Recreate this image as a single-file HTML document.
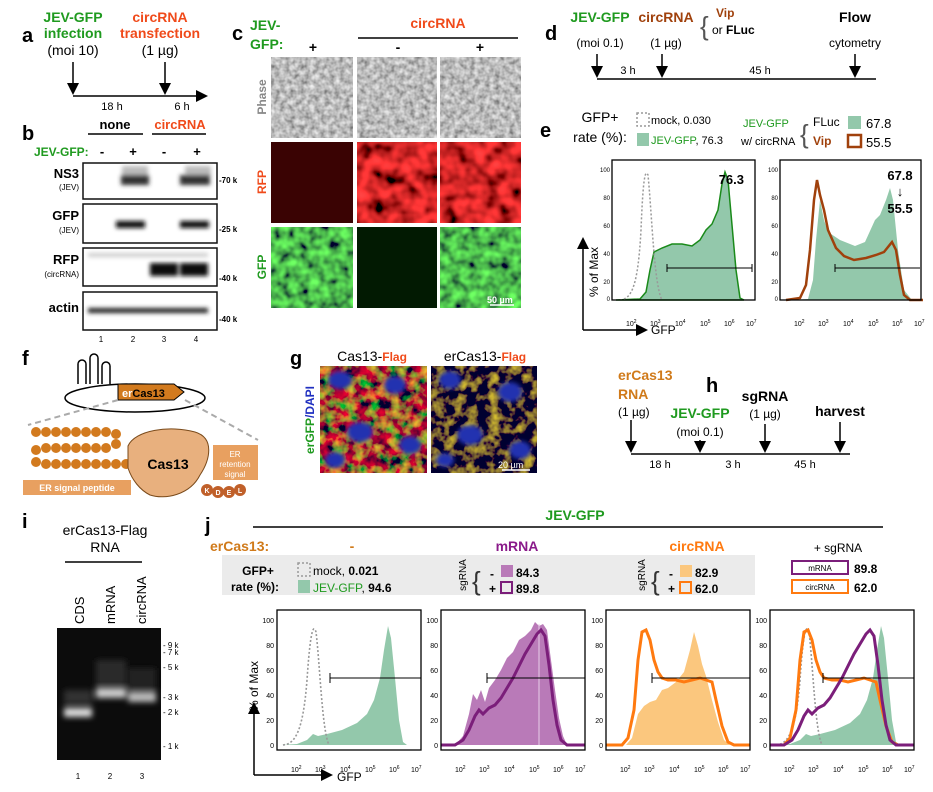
<!DOCTYPE html>
<html><head><meta charset="utf-8"><style>
html,body{margin:0;padding:0;background:#fff}
svg{display:block;font-family:"Liberation Sans",sans-serif}
.b{font-weight:bold}
.pl{font-size:20px;font-weight:bold}
</style></head><body>
<svg width="933" height="792" viewBox="0 0 933 792" xmlns="http://www.w3.org/2000/svg">
<defs>
<filter id="fPh" x="0" y="0" width="1" height="1"><feTurbulence type="fractalNoise" baseFrequency="0.2" numOctaves="2" seed="3"/><feColorMatrix type="matrix" values="0.9 0 0 0 0.05  0.9 0 0 0 0.05  0.9 0 0 0 0.05  0 0 0 0 1"/></filter>
<filter id="fR" x="0" y="0" width="1" height="1"><feTurbulence type="fractalNoise" baseFrequency="0.07" numOctaves="2" seed="7"/><feColorMatrix type="matrix" values="2.2 0 0 0 -0.45  0.1 0 0 0 -0.03  0.1 0 0 0 -0.03  0 0 0 0 1"/></filter>
<filter id="fG" x="0" y="0" width="1" height="1"><feTurbulence type="fractalNoise" baseFrequency="0.1" numOctaves="2" seed="11"/><feColorMatrix type="matrix" values="0 0.25 0 0 -0.05  0 1.7 0 0 -0.35  0 0.15 0 0 0  0 0 0 0 1"/></filter>
<filter id="fC1" x="0" y="0" width="1" height="1"><feTurbulence type="fractalNoise" baseFrequency="0.09" numOctaves="3" seed="5"/><feColorMatrix type="matrix" values="1.8 0 0 0 -0.55  0 1.4 0 0 -0.6  0 0 0 0 0.03  0 0 0 0 1"/></filter>
<filter id="fC2" x="0" y="0" width="1" height="1"><feTurbulence type="fractalNoise" baseFrequency="0.09" numOctaves="3" seed="9"/><feColorMatrix type="matrix" values="1.6 0 0 0 -0.7  1.3 0 0 0 -0.6  0 0 0 0 0.03  0 0 0 0 1"/></filter>
<filter id="bl"><feGaussianBlur stdDeviation="2"/></filter>
<filter id="bl3"><feGaussianBlur stdDeviation="3"/></filter>
<marker id="ar" markerWidth="8" markerHeight="8" refX="6" refY="4" orient="auto"><path d="M0,0 L8,4 L0,8 Z" fill="#000"/></marker>
<g id="ticks" font-size="7" fill="#000">
<text x="14" y="162">10<tspan dy="-3" font-size="5">2</tspan></text>
<text x="38" y="162">10<tspan dy="-3" font-size="5">3</tspan></text>
<text x="63" y="162">10<tspan dy="-3" font-size="5">4</tspan></text>
<text x="88" y="162">10<tspan dy="-3" font-size="5">5</tspan></text>
<text x="112" y="162">10<tspan dy="-3" font-size="5">6</tspan></text>
<text x="134" y="162">10<tspan dy="-3" font-size="5">7</tspan></text>
</g>
<g id="yt" font-size="7" text-anchor="end">
<text x="-3" y="13">100</text><text x="-3" y="38">80</text><text x="-3" y="63">60</text><text x="-3" y="88">40</text><text x="-3" y="113">20</text><text x="-3" y="138">0</text>
</g>
<path id="mock" d="M6,135 C18,134 26,122 30,70 C33,25 36,12 39,22 C43,55 45,120 52,135" fill="none" stroke="#999" stroke-width="1.6" stroke-dasharray="2,2"/>
<path id="jgreen" d="M4,135 L20,134 L30,130 L36,124 L41,126 L50,124 L65,120 L80,113 L90,104 L97,90 L103,68 L107,40 L111,16 L114,28 L118,68 L122,110 L126,132 L130,135 Z" fill="#93c8ab"/>
</defs>

<!-- Panel a -->
<text x="22" y="42" class="pl">a</text>
<g class="b" font-size="14" text-anchor="middle">
<text x="73" y="22" fill="#1f9a1f">JEV-GFP</text>
<text x="73" y="38" fill="#1f9a1f">infection</text>
<text x="73" y="55" font-weight="normal" fill="#000">(moi 10)</text>
<text x="160" y="22" fill="#f04a1a">circRNA</text>
<text x="160" y="38" fill="#f04a1a">transfection</text>
<text x="160" y="55" font-weight="normal" fill="#000">(1 µg)</text>
</g>
<line x1="73" y1="96" x2="205" y2="96" stroke="#000" stroke-width="1.5" marker-end="url(#ar)"/>
<line x1="73" y1="62" x2="73" y2="92" stroke="#000" stroke-width="1.5" marker-end="url(#ar)"/>
<line x1="165" y1="62" x2="165" y2="92" stroke="#000" stroke-width="1.5" marker-end="url(#ar)"/>
<text x="112" y="110" font-size="11" text-anchor="middle">18 h</text>
<text x="182" y="110" font-size="11" text-anchor="middle">6 h</text>

<!-- Panel b -->
<text x="22" y="140" class="pl">b</text>
<text x="115" y="129" class="b" font-size="13" text-anchor="middle">none</text>
<line x1="88" y1="134" x2="143" y2="134" stroke="#000" stroke-width="1.5"/>
<text x="180" y="129" class="b" font-size="13" text-anchor="middle" fill="#f04a1a">circRNA</text>
<line x1="152" y1="134" x2="206" y2="134" stroke="#000" stroke-width="1.5"/>
<text x="34" y="156" class="b" font-size="12" fill="#1f9a1f">JEV-GFP:</text>
<g class="b" font-size="13" text-anchor="middle"><text x="102" y="156">-</text><text x="133" y="156">+</text><text x="164" y="156">-</text><text x="197" y="156">+</text></g>
<g fill="#fff" stroke="#111" stroke-width="1.5">
<rect x="83" y="163" width="134" height="36"/><rect x="83" y="204" width="134" height="39"/><rect x="83" y="248" width="134" height="38"/><rect x="83" y="292" width="134" height="38"/>
</g>
<g filter="url(#bl)">
<rect x="122" y="166" width="26" height="12" fill="#bbb"/><rect x="185" y="166" width="26" height="12" fill="#bbb"/>
<rect x="121" y="175" width="28" height="10" fill="#333"/><rect x="180" y="175" width="30" height="10" fill="#333"/>
<rect x="116" y="221" width="29" height="7" fill="#111"/><rect x="180" y="221" width="29" height="7" fill="#111"/>
<rect x="88" y="253" width="120" height="4" fill="#ccc"/>
<rect x="150" y="263" width="28" height="13" fill="#0a0a0a"/><rect x="180" y="263" width="28" height="13" fill="#111"/>
<rect x="88" y="308" width="120" height="5" fill="#222"/>
</g>
<g class="b" font-size="13" text-anchor="end"><text x="79" y="178">NS3</text><text x="79" y="220">GFP</text><text x="79" y="264">RFP</text><text x="79" y="312">actin</text></g>
<g font-size="8" text-anchor="end"><text x="79" y="190">(JEV)</text><text x="79" y="233">(JEV)</text><text x="79" y="277">(circRNA)</text></g>
<g font-size="8" class="b"><text x="219" y="183">-70 k</text><text x="219" y="232">-25 k</text><text x="219" y="281">-40 k</text><text x="219" y="322">-40 k</text></g>
<g font-size="8" text-anchor="middle"><text x="101" y="342">1</text><text x="133" y="342">2</text><text x="164" y="342">3</text><text x="196" y="342">4</text></g>

<!-- Panel c -->
<text x="232" y="40" class="pl">c</text>
<text x="250" y="30" class="b" font-size="14" fill="#1f9a1f">JEV-</text>
<text x="250" y="49" class="b" font-size="14" fill="#1f9a1f">GFP:</text>
<text x="438" y="28" class="b" font-size="14" fill="#f04a1a" text-anchor="middle">circRNA</text>
<line x1="358" y1="38" x2="518" y2="38" stroke="#000" stroke-width="1.5"/>
<g class="b" font-size="14" text-anchor="middle"><text x="313" y="52">+</text><text x="398" y="52">-</text><text x="480" y="52">+</text></g>
<rect x="271" y="57" width="82" height="81" filter="url(#fPh)"/>
<rect x="357" y="57" width="80" height="81" filter="url(#fPh)"/>
<rect x="440" y="57" width="81" height="81" filter="url(#fPh)"/>
<rect x="271" y="142" width="82" height="81" fill="#3a0303"/>
<rect x="357" y="142" width="80" height="81" filter="url(#fR)"/>
<rect x="440" y="142" width="81" height="81" filter="url(#fR)"/>
<rect x="271" y="227" width="82" height="81" filter="url(#fG)"/>
<rect x="357" y="227" width="80" height="81" fill="#021a02"/>
<rect x="440" y="227" width="81" height="81" filter="url(#fG)"/>
<text x="487" y="303" font-size="9" fill="#fff" class="b">50 µm</text>
<line x1="490" y1="305" x2="514" y2="305" stroke="#fff" stroke-width="1.5"/>
<g class="b" font-size="12">
<text transform="translate(266,97) rotate(-90)" text-anchor="middle" fill="#888">Phase</text>
<text transform="translate(266,182) rotate(-90)" text-anchor="middle" fill="#f04a1a">RFP</text>
<text transform="translate(266,267) rotate(-90)" text-anchor="middle" fill="#1f9a1f">GFP</text>
</g>

<!-- Panel d -->
<text x="545" y="40" class="pl">d</text>
<text x="600" y="22" class="b" font-size="14" fill="#1f9a1f" text-anchor="middle">JEV-GFP</text>
<text x="600" y="47" font-size="12" text-anchor="middle">(moi 0.1)</text>
<text x="666" y="22" class="b" font-size="14" fill="#a0410c" text-anchor="middle">circRNA</text>
<text x="666" y="47" font-size="12" text-anchor="middle">(1 µg)</text>
<text x="700" y="35" font-size="26" font-weight="100" fill="#555">{</text>
<text x="716" y="17" class="b" font-size="12" fill="#a0410c">Vip</text>
<text x="712" y="34" font-size="12">or <tspan class="b">FLuc</tspan></text>
<text x="855" y="22" class="b" font-size="14" text-anchor="middle">Flow</text>
<text x="855" y="47" font-size="12" text-anchor="middle">cytometry</text>
<line x1="597" y1="79" x2="876" y2="79" stroke="#000" stroke-width="1.5"/>
<line x1="597" y1="54" x2="597" y2="75" stroke="#000" stroke-width="1.5" marker-end="url(#ar)"/>
<line x1="662" y1="54" x2="662" y2="75" stroke="#000" stroke-width="1.5" marker-end="url(#ar)"/>
<line x1="855" y1="54" x2="855" y2="75" stroke="#000" stroke-width="1.5" marker-end="url(#ar)"/>
<text x="628" y="74" font-size="11" text-anchor="middle">3 h</text>
<text x="760" y="74" font-size="11" text-anchor="middle">45 h</text>

<!-- Panel e -->
<text x="540" y="137" class="pl">e</text>
<text x="600" y="122" font-size="14" text-anchor="middle">GFP+</text>
<text x="600" y="142" font-size="14" text-anchor="middle">rate (%):</text>
<rect x="637" y="113" width="12" height="13" fill="none" stroke="#999" stroke-dasharray="2,2" stroke-width="1.5"/>
<text x="651" y="124" font-size="11">mock, 0.030</text>
<rect x="637" y="133" width="12" height="13" fill="#93c8ab"/>
<text x="651" y="144" font-size="11"><tspan fill="#1f9a1f">JEV-GFP</tspan>, 76.3</text>
<text x="743" y="127" font-size="11" fill="#1f9a1f">JEV-GFP</text>
<text x="741" y="145" font-size="11">w/ circRNA</text>
<text x="800" y="143" font-size="26" fill="#555">{</text>
<text x="813" y="126" font-size="12">FLuc</text>
<text x="813" y="145" class="b" font-size="12" fill="#a0410c">Vip</text>
<rect x="848" y="116" width="13" height="13" fill="#93c8ab"/>
<text x="866" y="128" font-size="13">67.8</text>
<rect x="848" y="135" width="13" height="12" fill="none" stroke="#a0410c" stroke-width="2.5"/>
<text x="866" y="147" font-size="13">55.5</text>

<g transform="translate(612,160)">
<path d="M4,140 L28,139 L34,132 L38,110 L42,92 L50,88 L60,84 L70,84 L80,86 L88,80 L94,70 L100,64 L106,50 L110,24 L113,12 L116,20 L120,65 L124,110 L128,138 L132,140 Z" fill="#93c8ab" stroke="#1a8a1a" stroke-width="1.5"/>
<path d="M8,140 C20,139 26,125 29,70 C31,20 33,8 36,15 C40,55 42,125 50,140" fill="none" stroke="#999" stroke-width="1.5" stroke-dasharray="2,2"/>
<line x1="55" y1="108" x2="140" y2="108" stroke="#000"/><line x1="55" y1="104" x2="55" y2="112" stroke="#000"/><line x1="140" y1="104" x2="140" y2="112" stroke="#000"/>
<rect x="0" y="0" width="143" height="140" fill="none" stroke="#000" stroke-width="1.3"/>
<use href="#ticks" transform="translate(0,4)"/>
<g font-size="6" text-anchor="end"><text x="-2" y="12">100</text><text x="-2" y="40">80</text><text x="-2" y="68">60</text><text x="-2" y="96">40</text><text x="-2" y="124">20</text><text x="-2" y="141">0</text></g>
<text x="132" y="24" class="b" font-size="13" text-anchor="end">76.3</text>
</g>
<g transform="translate(780,160)">
<path d="M10,140 L28,139 L33,120 L36,80 L40,40 L44,60 L48,72 L60,80 L75,86 L85,82 L95,60 L100,55 L106,40 L110,28 L113,40 L118,90 L124,130 L132,140 Z" fill="#93c8ab"/>
<path d="M6,140 L20,138 L26,125 L30,90 L34,40 L37,20 L40,35 L44,50 L48,70 L56,88 L64,96 L74,100 L86,98 L96,95 L104,92 L112,82 L116,90 L120,115 L124,135 L130,140 L143,140" fill="none" stroke="#a0410c" stroke-width="2.5"/>
<line x1="55" y1="108" x2="140" y2="108" stroke="#000"/><line x1="55" y1="104" x2="55" y2="112" stroke="#000"/>
<rect x="0" y="0" width="141" height="140" fill="none" stroke="#000" stroke-width="1.3"/>
<use href="#ticks" transform="translate(0,4)"/>
<g font-size="6" text-anchor="end"><text x="-2" y="12">100</text><text x="-2" y="40">80</text><text x="-2" y="68">60</text><text x="-2" y="96">40</text><text x="-2" y="124">20</text><text x="-2" y="141">0</text></g>
<text x="120" y="20" class="b" font-size="13" text-anchor="middle">67.8</text>
<text x="120" y="36" class="b" font-size="13" text-anchor="middle">↓</text>
<text x="120" y="53" class="b" font-size="13" text-anchor="middle">55.5</text>
</g>
<line x1="583" y1="330" x2="583" y2="240" stroke="#000" stroke-width="1.5" marker-end="url(#ar)"/>
<line x1="583" y1="330" x2="645" y2="330" stroke="#000" stroke-width="1.5" marker-end="url(#ar)"/>
<text transform="translate(598,272) rotate(-90)" font-size="12" text-anchor="middle">% of Max</text>
<text x="651" y="334" font-size="12">GFP</text>

<!-- Panel f -->
<text x="22" y="365" class="pl">f</text>
<ellipse cx="135" cy="398" rx="70" ry="14" fill="none" stroke="#000" stroke-width="1.5"/>
<path d="M78,384 v-20 a4,4 0 0 1 8,0 v20 M90,384 v-26 a4,4 0 0 1 8,0 v26 M102,384 v-18 a4,4 0 0 1 8,0 v18" fill="#fff" stroke="#000" stroke-width="1.5"/>
<path d="M118,384 h56 l10,8 l-10,8 h-56 Z" fill="#d27a1e" stroke="#000"/>
<text x="122" y="397" font-size="11" class="b"><tspan fill="#fff">er</tspan>Cas13</text>
<line x1="118" y1="400" x2="28" y2="425" stroke="#aaa" stroke-width="2" stroke-dasharray="6,4"/>
<line x1="185" y1="400" x2="258" y2="440" stroke="#aaa" stroke-width="2" stroke-dasharray="6,4"/>
<g fill="#d27a1e">
<circle cx="36" cy="432" r="5"/><circle cx="46" cy="432" r="5"/><circle cx="56" cy="432" r="5"/><circle cx="66" cy="432" r="5"/><circle cx="76" cy="432" r="5"/><circle cx="86" cy="432" r="5"/><circle cx="96" cy="432" r="5"/><circle cx="106" cy="432" r="5"/><circle cx="116" cy="434" r="5"/>
<circle cx="116" cy="444" r="5"/><circle cx="106" cy="448" r="5"/><circle cx="96" cy="448" r="5"/><circle cx="86" cy="448" r="5"/><circle cx="76" cy="448" r="5"/><circle cx="66" cy="448" r="5"/><circle cx="56" cy="448" r="5"/><circle cx="46" cy="448" r="5"/><circle cx="36" cy="450" r="5"/>
<circle cx="36" cy="462" r="5"/><circle cx="46" cy="464" r="5"/><circle cx="56" cy="464" r="5"/><circle cx="66" cy="464" r="5"/><circle cx="76" cy="464" r="5"/><circle cx="86" cy="464" r="5"/><circle cx="96" cy="464" r="5"/><circle cx="106" cy="464" r="5"/><circle cx="116" cy="464" r="5"/><circle cx="126" cy="464" r="5"/>
</g>
<path d="M128,446 C135,430 170,425 195,432 C215,438 210,460 200,475 C190,495 165,500 150,495 C140,490 132,480 128,468 Z" fill="#e8b07e" stroke="#7a4a1a"/>
<text x="168" y="469" class="b" font-size="14" text-anchor="middle">Cas13</text>
<rect x="23" y="480" width="108" height="15" fill="#e8a060"/>
<text x="77" y="491" font-size="9" fill="#fff" text-anchor="middle" class="b">ER signal peptide</text>
<rect x="213" y="445" width="45" height="35" fill="#e8a060"/>
<text x="235" y="457" font-size="8" fill="#fff" text-anchor="middle">ER</text>
<text x="235" y="467" font-size="8" fill="#fff" text-anchor="middle">retention</text>
<text x="235" y="477" font-size="8" fill="#fff" text-anchor="middle">signal</text>
<g fill="#c0602a"><circle cx="207" cy="490" r="6"/><circle cx="218" cy="492" r="6"/><circle cx="229" cy="492" r="6"/><circle cx="240" cy="490" r="6"/></g>
<g font-size="7" fill="#fff" text-anchor="middle" class="b"><text x="207" y="493">K</text><text x="218" y="495">D</text><text x="229" y="495">E</text><text x="240" y="493">L</text></g>

<!-- Panel g -->
<text x="290" y="365" class="pl">g</text>
<text x="372" y="361" font-size="14" text-anchor="middle">Cas13-<tspan fill="#f04a1a" class="b" font-size="12">Flag</tspan></text>
<text x="485" y="361" font-size="14" text-anchor="middle">erCas13-<tspan fill="#f04a1a" class="b" font-size="12">Flag</tspan></text>
<rect x="320" y="366" width="107" height="107" filter="url(#fC1)"/>
<rect x="431" y="366" width="106" height="107" filter="url(#fC2)"/>
<g fill="#2030b0" filter="url(#bl)">
<ellipse cx="340" cy="380" rx="12" ry="9"/><ellipse cx="395" cy="385" rx="11" ry="9"/><ellipse cx="360" cy="432" rx="13" ry="10"/><ellipse cx="410" cy="445" rx="11" ry="9"/><ellipse cx="335" cy="460" rx="10" ry="8"/>
<ellipse cx="450" cy="380" rx="11" ry="9"/><ellipse cx="510" cy="392" rx="12" ry="10"/><ellipse cx="470" cy="435" rx="13" ry="10"/><ellipse cx="520" cy="450" rx="11" ry="9"/><ellipse cx="445" cy="460" rx="9" ry="7"/>
</g>
<text x="498" y="468" font-size="9" fill="#fff">20 µm</text>
<line x1="502" y1="470" x2="530" y2="470" stroke="#fff" stroke-width="1.5"/>
<text transform="translate(314,420) rotate(-90)" font-size="12" text-anchor="middle" class="b"><tspan fill="#1f9a1f">erGFP</tspan><tspan fill="#2030c0">/DAPI</tspan></text>

<!-- Panel h -->
<text x="706" y="392" class="pl">h</text>
<text x="618" y="380" class="b" font-size="14" fill="#d07a1a">erCas13</text>
<text x="618" y="399" class="b" font-size="14" fill="#d07a1a">RNA</text>
<text x="618" y="416" font-size="12">(1 µg)</text>
<text x="700" y="418" class="b" font-size="14" fill="#1f9a1f" text-anchor="middle">JEV-GFP</text>
<text x="700" y="436" font-size="12" text-anchor="middle">(moi 0.1)</text>
<text x="765" y="401" class="b" font-size="14" text-anchor="middle">sgRNA</text>
<text x="765" y="418" font-size="12" text-anchor="middle">(1 µg)</text>
<text x="840" y="416" class="b" font-size="14" text-anchor="middle">harvest</text>
<line x1="631" y1="454" x2="850" y2="454" stroke="#000" stroke-width="1.5"/>
<line x1="631" y1="420" x2="631" y2="450" stroke="#000" stroke-width="1.5" marker-end="url(#ar)"/>
<line x1="700" y1="440" x2="700" y2="450" stroke="#000" stroke-width="1.5" marker-end="url(#ar)"/>
<line x1="765" y1="424" x2="765" y2="450" stroke="#000" stroke-width="1.5" marker-end="url(#ar)"/>
<line x1="840" y1="422" x2="840" y2="450" stroke="#000" stroke-width="1.5" marker-end="url(#ar)"/>
<text x="660" y="468" font-size="11" text-anchor="middle">18 h</text>
<text x="733" y="468" font-size="11" text-anchor="middle">3 h</text>
<text x="805" y="468" font-size="11" text-anchor="middle">45 h</text>

<!-- Panel i -->
<text x="22" y="528" class="pl">i</text>
<text x="105" y="535" font-size="14" text-anchor="middle">erCas13-Flag</text>
<text x="105" y="552" font-size="14" text-anchor="middle">RNA</text>
<line x1="65" y1="562" x2="142" y2="562" stroke="#000" stroke-width="1.5"/>
<g font-size="13">
<text transform="translate(84,624) rotate(-90)">CDS</text>
<text transform="translate(115,624) rotate(-90)">mRNA</text>
<text transform="translate(146,624) rotate(-90)">circRNA</text>
</g>
<rect x="57" y="628" width="104" height="132" fill="#0c0c0c"/>
<g filter="url(#bl3)">
<rect x="64" y="708" width="28" height="9" fill="#ddd"/><rect x="64" y="690" width="28" height="14" fill="#333"/>
<rect x="96" y="688" width="30" height="10" fill="#ccc"/><rect x="96" y="660" width="30" height="25" fill="#2a2a2a"/>
<rect x="128" y="692" width="28" height="10" fill="#bbb"/><rect x="128" y="668" width="28" height="22" fill="#222"/>
</g>
<g font-size="8"><text x="163" y="648">- 9 k</text><text x="163" y="655">- 7 k</text><text x="163" y="670">- 5 k</text><text x="163" y="700">- 3 k</text><text x="163" y="715">- 2 k</text><text x="163" y="749">- 1 k</text></g>
<g font-size="8" text-anchor="middle"><text x="78" y="779">1</text><text x="110" y="779">2</text><text x="142" y="779">3</text></g>

<!-- Panel j -->
<text x="205" y="532" class="pl">j</text>
<text x="575" y="520" class="b" font-size="14" fill="#1f9a1f" text-anchor="middle">JEV-GFP</text>
<line x1="253" y1="527" x2="883" y2="527" stroke="#000" stroke-width="1.5"/>
<text x="210" y="551" class="b" font-size="14" fill="#d07a1a">erCas13:</text>
<text x="352" y="551" class="b" font-size="14" fill="#d07a1a" text-anchor="middle">-</text>
<text x="517" y="551" class="b" font-size="14" fill="#8a1a8a" text-anchor="middle">mRNA</text>
<text x="697" y="551" class="b" font-size="14" fill="#ff7a10" text-anchor="middle">circRNA</text>
<text x="838" y="552" font-size="12" text-anchor="middle">+ sgRNA</text>
<rect x="222" y="555" width="533" height="40" fill="#ebebeb"/>
<text x="258" y="575" class="b" font-size="12" text-anchor="middle">GFP+</text>
<text x="255" y="591" class="b" font-size="12" text-anchor="middle">rate (%):</text>
<rect x="298" y="563" width="12" height="13" fill="none" stroke="#999" stroke-dasharray="2,2" stroke-width="1.5"/>
<text x="313" y="575" font-size="12">mock, <tspan class="b">0.021</tspan></text>
<rect x="298" y="580" width="12" height="13" fill="#93c8ab"/>
<text x="313" y="592" font-size="12"><tspan fill="#1f9a1f">JEV-GFP</tspan>, <tspan class="b">94.6</tspan></text>
<text transform="translate(466,575) rotate(-90)" font-size="10" text-anchor="middle">sgRNA</text>
<text x="472" y="590" font-size="26" fill="#333">{</text>
<text x="490" y="578" class="b" font-size="12">-</text><text x="489" y="593" class="b" font-size="12">+</text>
<rect x="501" y="565" width="12" height="12" fill="#b97ab8"/>
<text x="516" y="577" class="b" font-size="12">84.3</text>
<rect x="501" y="582" width="11" height="11" fill="none" stroke="#7b1e7a" stroke-width="2"/>
<text x="516" y="593" class="b" font-size="12">89.8</text>
<text transform="translate(645,575) rotate(-90)" font-size="10" text-anchor="middle">sgRNA</text>
<text x="651" y="590" font-size="26" fill="#333">{</text>
<text x="669" y="578" class="b" font-size="12">-</text><text x="668" y="593" class="b" font-size="12">+</text>
<rect x="680" y="565" width="12" height="12" fill="#fbc77e"/>
<text x="695" y="577" class="b" font-size="12">82.9</text>
<rect x="680" y="582" width="11" height="11" fill="none" stroke="#ff7a10" stroke-width="2"/>
<text x="695" y="593" class="b" font-size="12">62.0</text>
<rect x="792" y="561" width="56" height="13" fill="#fff" stroke="#7b1e7a" stroke-width="2"/>
<text x="820" y="571" font-size="8" text-anchor="middle">mRNA</text>
<text x="854" y="573" class="b" font-size="12">89.8</text>
<rect x="792" y="580" width="56" height="13" fill="#fff" stroke="#ff7a10" stroke-width="2"/>
<text x="820" y="590" font-size="8" text-anchor="middle">circRNA</text>
<text x="854" y="592" class="b" font-size="12">62.0</text>

<g transform="translate(277,610)">
<use href="#jgreen"/><use href="#mock"/>
<line x1="53" y1="68" x2="144" y2="68" stroke="#000"/><line x1="53" y1="63" x2="53" y2="73" stroke="#000"/>
<rect x="0" y="0" width="144" height="140" fill="none" stroke="#000" stroke-width="1.3"/>
<use href="#ticks"/><use href="#yt"/>
</g>
<g transform="translate(441,610)">
<path d="M4,135 L16,133 L22,126 L28,104 L32,84 L36,90 L40,80 L44,92 L48,78 L54,70 L60,60 L66,48 L72,42 L78,30 L84,26 L90,20 L94,12 L98,16 L102,14 L106,20 L110,50 L114,80 L118,108 L122,126 L126,135 Z" fill="#b97ab8"/>
<line x1="98" y1="14" x2="98" y2="135" stroke="#e8cfe8"/>
<path d="M0,135 L14,135 L22,130 L28,120 L34,106 L38,100 L42,104 L48,98 L54,95 L60,88 L66,78 L72,68 L78,56 L84,44 L90,34 L96,24 L100,20 L104,26 L108,55 L112,90 L116,115 L120,130 L126,135 L144,135" fill="none" stroke="#7b1e7a" stroke-width="3"/>
<line x1="46" y1="68" x2="144" y2="68" stroke="#000"/><line x1="46" y1="63" x2="46" y2="73" stroke="#000"/>
<rect x="0" y="0" width="144" height="140" fill="none" stroke="#000" stroke-width="1.3"/>
<use href="#ticks"/><use href="#yt"/>
</g>
<g transform="translate(606,610)">
<path d="M20,135 L26,128 L32,104 L38,96 L44,92 L50,90 L56,80 L62,78 L70,72 L78,62 L84,40 L88,22 L92,36 L96,54 L100,66 L106,90 L112,112 L118,130 L124,135 Z" fill="#fbc77e"/>
<path d="M0,135 L16,135 L22,128 L28,100 L32,50 L36,22 L40,20 L44,30 L48,50 L52,62 L56,68 L62,70 L70,70 L78,72 L86,70 L94,68 L100,70 L106,72 L110,90 L116,116 L122,132 L128,135 L144,135" fill="none" stroke="#ff7a10" stroke-width="3"/>
<line x1="46" y1="68" x2="144" y2="68" stroke="#000"/><line x1="46" y1="63" x2="46" y2="73" stroke="#000"/>
<rect x="0" y="0" width="144" height="140" fill="none" stroke="#000" stroke-width="1.3"/>
<use href="#ticks"/><use href="#yt"/>
</g>
<g transform="translate(770,610)">
<use href="#jgreen"/><use href="#mock"/>
<path d="M0,135 L14,135 L20,128 L26,100 L30,50 L34,22 L38,20 L42,30 L46,50 L50,62 L54,68 L62,70 L70,70 L78,72 L86,70 L94,68 L100,70 L106,72 L110,90 L116,116 L122,132 L128,135 L144,135" fill="none" stroke="#ff7a10" stroke-width="3"/>
<path d="M0,135 L14,135 L22,130 L28,120 L34,106 L38,100 L42,104 L48,98 L54,95 L60,88 L66,78 L72,68 L78,56 L84,44 L90,34 L96,24 L100,20 L104,26 L108,55 L112,90 L116,115 L120,130 L126,135 L144,135" fill="none" stroke="#7b1e7a" stroke-width="3"/>
<line x1="53" y1="68" x2="144" y2="68" stroke="#000"/><line x1="53" y1="63" x2="53" y2="73" stroke="#000"/>
<rect x="0" y="0" width="144" height="140" fill="none" stroke="#000" stroke-width="1.3"/>
<use href="#ticks"/><use href="#yt"/>
</g>
<line x1="254" y1="775" x2="254" y2="705" stroke="#000" stroke-width="1.5" marker-end="url(#ar)"/>
<line x1="254" y1="775" x2="330" y2="775" stroke="#000" stroke-width="1.5" marker-end="url(#ar)"/>
<text transform="translate(258,686) rotate(-90)" font-size="12" text-anchor="middle">% of Max</text>
<text x="337" y="781" font-size="12">GFP</text>
</svg>
</body></html>
